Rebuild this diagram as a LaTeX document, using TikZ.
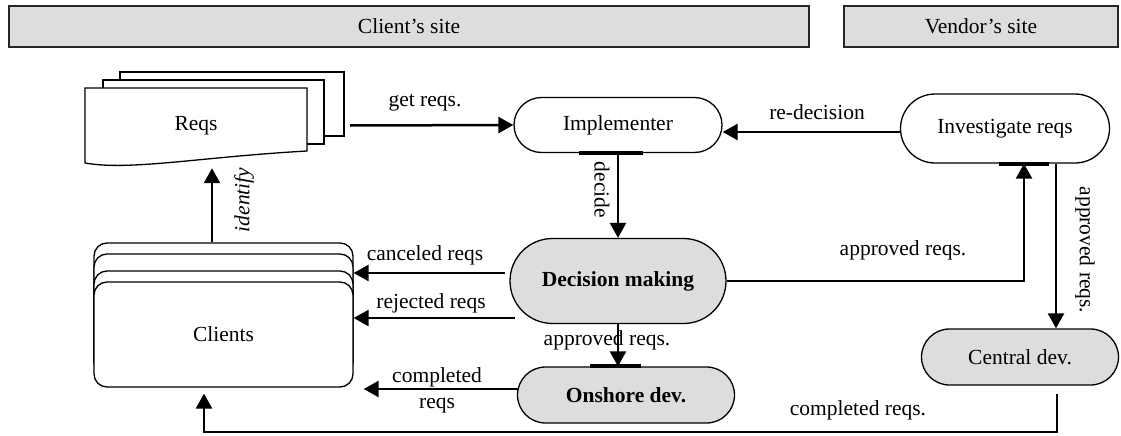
\documentclass[tikz,border=0pt]{standalone}
\usepackage{fontspec}
\setmainfont{Liberation Serif}
\usetikzlibrary{arrows.meta,shapes.misc}

\definecolor{boxgray}{RGB}{220,221,223}

\tikzset{
  site/.style={draw=black!85, line width=2.5pt, fill=boxgray, inner sep=0pt},
  proc/.style={rounded rectangle, draw, line width=1.3pt, fill=white, inner sep=0pt},
  procg/.style={proc, fill=boxgray},
  stackbox/.style={draw, line width=1.3pt, fill=white, rounded corners=13pt, inner sep=0pt, minimum width=259pt},
  doc/.style={draw, line width=1.3pt, fill=white},
  arr/.style={line width=2.5pt, -{Triangle[length=15pt,width=16pt]}},
  bar/.style={line width=4pt}
}

\begin{document}
\begin{tikzpicture}[x=1pt, y=-1pt, font=\fontsize{21.5pt}{26pt}\selectfont]

\useasboundingbox (0,0) rectangle (1121,436);

\node[site, minimum width=800pt, minimum height=41pt] (clientsite) at (409,26.5) {Client's site};
\node[site, minimum width=274pt, minimum height=41pt] (vendorsite) at (981,26.5) {Vendor's site};

\draw[doc] (120,72) rectangle (344,136);
\draw[doc] (103,80) rectangle (324,144);
\draw[doc] (307,151) -- (307,88) -- (85,88) -- (85,163) .. controls (130,171) and (200,157) .. (307,151) -- cycle;
\node[minimum width=222pt, minimum height=75pt, inner sep=0pt] (reqs) at (196,125.5) {Reqs};

\node[stackbox, minimum height=132pt] (clients3) at (223.5,309) {};
\node[stackbox, minimum height=121pt] (clients2) at (223.5,314.5) {};
\node[stackbox, minimum height=104pt] (clients1) at (223.5,323) {};
\node[stackbox, minimum height=105pt] (clients) at (223.5,334.5) {Clients};

\node[proc, minimum width=208pt, minimum height=55pt] (impl) at (618,125) {Implementer};
\node[proc, minimum width=209pt, minimum height=69pt] (invest) at (1005,128.5) {Investigate reqs};
\node[procg, minimum width=216pt, minimum height=85pt] (decision) at (618,281) {\textbf{Decision making}};
\node[procg, minimum width=217pt, minimum height=56pt] (onshore) at (626,395) {\textbf{Onshore dev.}};
\node[procg, minimum width=197pt, minimum height=56pt] (central) at (1020,357) {Central dev.};

\coordinate (cancelfrom) at (505,273);
\coordinate (rejectfrom) at (515,318);
\coordinate (donefrom) at (518,389);
\coordinate (loopcorner) at (204,432);

\draw[arr] ([xshift=43pt]reqs.east) -- (impl.west);
\draw[arr] ([yshift=-3.5pt]invest.west) -- ([yshift=-3.5pt]invest.west -| impl.east);
\draw[arr] (impl.south) -- (decision.north);
\draw[arr] (decision.south) -- (onshore.north -| decision.south);
\draw[arr] (decision.east) -| ([xshift=19pt]invest.south);
\draw[arr] ([xshift=51pt]invest.south) -- ([xshift=51pt]invest.south |- central.north);
\draw[arr] ([xshift=37pt,yshift=-8pt]central.south) |- (loopcorner) -- ([xshift=-19.5pt,yshift=-6pt]clients.south);
\draw[arr] (cancelfrom) -- (cancelfrom -| clients.east);
\draw[arr] (rejectfrom) -- (rejectfrom -| clients.east);
\draw[arr, shorten >=10pt] (donefrom) -- (donefrom -| clients.east);
\draw[arr] ([xshift=-11.5pt]clients3.north) -- ([xshift=16pt,yshift=-5pt]reqs.south);

\draw[bar] ([xshift=-39pt]impl.south) -- ([xshift=25pt]impl.south);
\draw[bar] ([xshift=-6pt]invest.south) -- ([xshift=44pt]invest.south);
\draw[bar] ([xshift=-36pt]onshore.north) -- ([xshift=15pt]onshore.north);

\node (getlbl) at (425,103) {get reqs.};
\node (redeclbl) at (817,112) {re-decision};
\node[rotate=-90] (decidelbl) at (602,190) {decide};
\node[rotate=90] (identlbl) at (244,200) {\textit{identify}};
\node (cancellbl) at (425,255) {canceled reqs};
\node (rejectlbl) at (431,303) {rejected reqs};
\node[align=center] (donelbl) at (437,390) {completed\\reqs};
\node (approvedlbl) at (607,340) {approved reqs.};
\node (approvedlbl2) at (903,250) {approved reqs.};
\node[rotate=-90] (approvedlbl3) at (1085,250) {approved reqs.};
\node (completedlbl) at (858,410) {completed reqs.};

\end{tikzpicture}
\end{document}
